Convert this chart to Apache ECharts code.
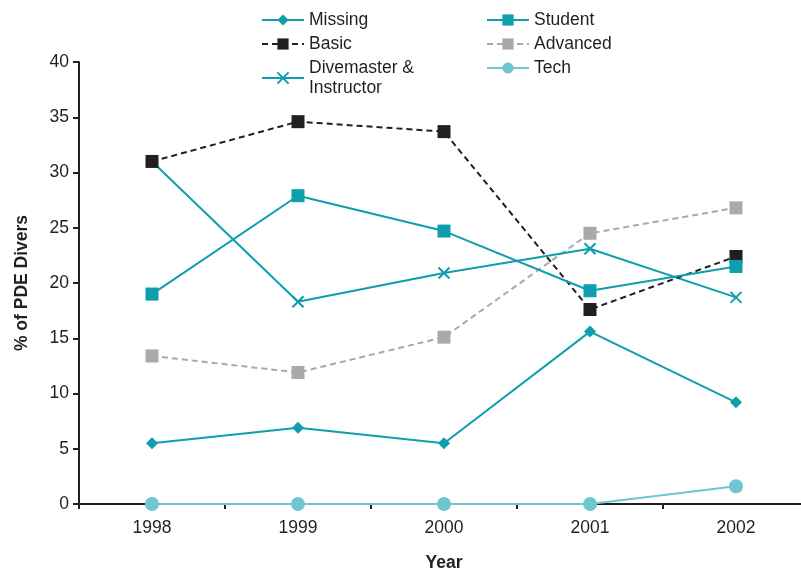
<!DOCTYPE html>
<html><head><meta charset="utf-8">
<script src="https://cdn.jsdelivr.net/npm/echarts@6/dist/echarts.min.js"></script>
<style>html,body{margin:0;padding:0;background:#fff}#c{width:801px;height:571px}</style>
</head><body><div id="c"></div>
<script>
var years = ['1998','1999','2000','2001','2002'];
var missing = [5.5, 6.9, 5.5, 15.6, 9.2];
var student = [19.0, 27.9, 24.7, 19.3, 21.5];
var basic = [31.0, 34.6, 33.7, 17.6, 22.4];
var advanced = [13.4, 11.9, 15.1, 24.5, 26.8];
var divemaster = [31.0, 18.3, 20.9, 23.1, 18.7];
var tech = [0, 0, 0, 0, 1.6];

var TEAL = '#0E9EAC', BLACK = '#231F20', GREY = '#A7A9AC', LTEAL = '#6EC6D0';
var FONT = 'Liberation Sans';
var crossPath = 'path://M0,0L10,10M10,0L0,10';
var legendText = {fontFamily: FONT, fontSize: 17.5, color: '#231F20', lineHeight: 20};

var chart = echarts.init(document.getElementById('c'));
chart.setOption({
  animation: false,
  textStyle: {fontFamily: FONT},
  grid: {left: 79, top: 62, width: 730, height: 442, containLabel: false, outerBoundsMode: 'none'},
  legend: [
    {orient: 'vertical', left: 261, top: 10, itemWidth: 42, itemHeight: 14, itemGap: 4, padding: 0,
     textStyle: legendText,
     data: ['Missing', 'Basic', 'Divemaster &\nInstructor']},
    {orient: 'vertical', left: 486, top: 10, itemWidth: 42, itemHeight: 14, itemGap: 4, padding: 0,
     textStyle: legendText,
     data: ['Student', 'Advanced', 'Tech']}
  ],
  xAxis: {
    type: 'category', data: years, boundaryGap: true,
    name: 'Year', nameLocation: 'middle', nameGap: 50,
    nameTextStyle: {fontFamily: FONT, fontSize: 17.5, fontWeight: 'bold', color: '#231F20'},
    axisLine: {lineStyle: {color: '#231F20', width: 2}},
    axisTick: {show: true, inside: false, length: 5, interval: 0, lineStyle: {color: '#231F20', width: 2}},
    axisLabel: {fontFamily: FONT, fontSize: 17.5, color: '#231F20', margin: 15},
    splitLine: {show: false}
  },
  yAxis: {
    type: 'value', min: 0, max: 40, interval: 5,
    name: '% of PDE Divers', nameLocation: 'middle', nameGap: 48, nameRotate: 90,
    nameTextStyle: {fontFamily: FONT, fontSize: 17.5, fontWeight: 'bold', color: '#231F20'},
    axisLine: {show: true, lineStyle: {color: '#231F20', width: 2}},
    axisTick: {show: true, length: 6, lineStyle: {color: '#231F20', width: 2}},
    axisLabel: {fontFamily: FONT, fontSize: 17.5, color: '#231F20', margin: 10},
    splitLine: {show: false}
  },
  series: [
    {name: 'Tech', type: 'line', data: tech, symbol: 'circle', symbolSize: 14,
     lineStyle: {color: LTEAL, width: 2}, itemStyle: {color: LTEAL}, z: 1},
    {name: 'Advanced', type: 'line', data: advanced, symbol: 'rect', symbolSize: 13,
     lineStyle: {color: GREY, width: 2, type: [6, 4]}, itemStyle: {color: GREY}},
    {name: 'Divemaster &\nInstructor', type: 'line', data: divemaster, symbol: crossPath, symbolSize: 11,
     lineStyle: {color: TEAL, width: 2}, itemStyle: {color: 'none', borderColor: TEAL, borderWidth: 2}},
    {name: 'Basic', type: 'line', data: basic, symbol: 'rect', symbolSize: 13,
     lineStyle: {color: BLACK, width: 2, type: [6, 4]}, itemStyle: {color: BLACK}},
    {name: 'Student', type: 'line', data: student, symbol: 'rect', symbolSize: 13,
     lineStyle: {color: TEAL, width: 2}, itemStyle: {color: TEAL}},
    {name: 'Missing', type: 'line', data: missing, symbol: 'diamond', symbolSize: 12,
     lineStyle: {color: TEAL, width: 2}, itemStyle: {color: TEAL}}
  ]
});
</script></body></html>
